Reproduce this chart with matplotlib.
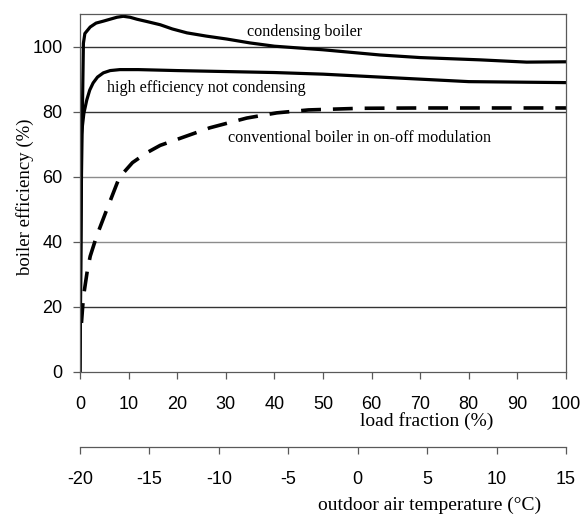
import matplotlib
matplotlib.use("Agg")
import matplotlib.pyplot as plt

plt.rcParams["axes.unicode_minus"] = False

# load fraction (%) vs boiler efficiency (%)
cond_x = [0, 0.3, 0.7, 1.0, 2.1, 3.3, 4.8, 6.2, 7.6, 8.9, 10.3, 11.7, 14, 16.5, 19, 22, 26, 30.2, 35, 40, 50, 61.7, 70, 82.3, 91.9, 100]
cond_y = [0, 60, 101, 104, 106, 107.2, 107.8, 108.4, 109.0, 109.3, 109.0, 108.4, 107.6, 106.7, 105.4, 104.2, 103.2, 102.3, 101.1, 100.1, 99, 97.4, 96.6, 95.9, 95.2, 95.3]

high_x = [0, 0.3, 0.8, 1.4, 2.0, 2.7, 3.6, 4.8, 6.2, 8.2, 12, 20, 40, 50, 61.7, 80, 100]
high_y = [0, 73, 79.5, 83.6, 86.6, 88.8, 90.6, 91.9, 92.6, 92.9, 92.9, 92.6, 92, 91.5, 90.6, 89.2, 88.9]

conv_x = [0.3, 0.7, 1.5, 2.1, 3.4, 5.5, 7.9, 8.9, 10.8, 13.7, 16.5, 19.9, 26.7, 34.3, 40.5, 47, 57.6, 70, 85, 100]
conv_y = [15, 23, 31, 35.5, 41.6, 49.8, 59, 61.1, 64.3, 67.3, 69.6, 71.4, 75, 78, 79.6, 80.5, 81.0, 81.1, 81.1, 81.1]

load_ticks = list(range(0, 101, 10))
eff_ticks = list(range(0, 101, 20))
temp_ticks = [-20, -15, -10, -5, 0, 5, 10, 15]

serif = "Liberation Serif"
sans = "Liberation Sans"

fig = plt.figure(figsize=(5.84, 5.17), dpi=100)
ax = fig.add_axes([80 / 584, 1 - 371.7 / 517, 486 / 584, 357.7 / 517])

# gridlines: the scan shows 40 and 60 lighter than the rest
for v in eff_ticks[1:]:
    ax.axhline(v, color="0.55" if v in (40, 60) else "0.2", lw=1.0, zorder=0.5)

ax.plot(cond_x, cond_y, color="black", lw=2.3, solid_joinstyle="round")
ax.plot(high_x, high_y, color="black", lw=2.3, solid_joinstyle="round")
ax.plot(conv_x, conv_y, color="black", lw=2.6, dashes=(5.5, 3.3), dash_capstyle="butt")

ax.set_xlim(0, 100)
ax.set_ylim(0, 110)
ax.set_xticks(load_ticks)
ax.set_yticks(eff_ticks)
for s in ax.spines.values():
    s.set_color("0.35")
    s.set_linewidth(0.9)
ax.tick_params(axis="x", direction="out", length=5, width=0.9, color="0.35", pad=12.5, labelsize=13)
ax.tick_params(axis="y", direction="out", length=5, width=0.9, color="0.35", pad=7.5, labelsize=13)
for lab in ax.get_xticklabels() + ax.get_yticklabels():
    lab.set_family(sans)

ax.set_ylabel("boiler efficiency (%)", family=serif, fontsize=13.5)
ax.yaxis.set_label_coords(-0.113, 0.49)
ax.yaxis.label.set_va("center")
ax.set_xlabel("load fraction (%)", family=serif, fontsize=14)
ax.xaxis.set_label_coords(426.7 / 584, 1 - 421 / 517, transform=fig.transFigure)
ax.xaxis.label.set_va("center")

ax.text(34.4, 104.6, "condensing boiler", family=serif, fontsize=11.6, va="center")
ax.text(5.5, 87.2, "high efficiency not condensing", family=serif, fontsize=11.6, va="center")
ax.text(30.5, 71.8, "conventional boiler in on-off modulation", family=serif, fontsize=11.6, va="center")

# second scale: outdoor air temperature
ax2 = fig.add_axes([80 / 584, 1 - 447 / 517, 486 / 584, 0.001])
ax2.set_xlim(-20, 15)
ax2.set_xticks(temp_ticks)
ax2.set_yticks([])
for side in ["top", "left", "right"]:
    ax2.spines[side].set_visible(False)
ax2.spines["bottom"].set_color("0.35")
ax2.spines["bottom"].set_linewidth(0.9)
ax2.patch.set_visible(False)
ax2.tick_params(axis="x", direction="out", length=5, width=0.9, color="0.35", pad=12.5, labelsize=13)
for lab in ax2.get_xticklabels():
    lab.set_family(sans)
ax2.set_xlabel("outdoor air temperature (\u00b0C)", family=serif, fontsize=14)
ax2.xaxis.set_label_coords(430 / 584, 1 - 505 / 517, transform=fig.transFigure)
ax2.xaxis.label.set_va("center")

fig.savefig("out.png", dpi=100)
